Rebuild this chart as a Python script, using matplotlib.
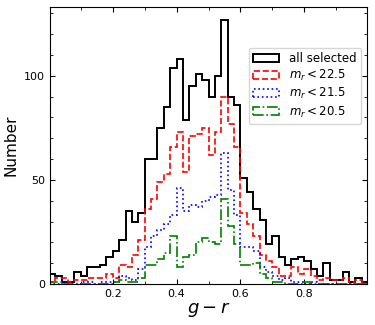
import numpy as np
import matplotlib
matplotlib.use("Agg")
from matplotlib import pyplot as plt
from matplotlib.ticker import MultipleLocator

# g-r histogram, 50 bins of width 0.02 between 0 and 1
edges = np.linspace(0.0, 1.0, 51)

all_sel = [5, 4, 1, 1, 6, 4, 8, 8, 9, 13, 16, 21, 35, 30, 34, 60, 60, 75, 85, 104,
           108, 79, 95, 101, 98, 90, 100, 127, 90, 86, 51, 44, 36, 31, 19, 23, 13, 9, 12, 13,
           11, 7, 4, 10, 2, 2, 6, 1, 3, 1]
m225 = [1, 3, 3, 1, 2, 2, 3, 3, 3, 5, 3, 9, 8, 14, 21, 36, 41, 49, 53, 66,
        73, 54, 71, 72, 75, 62, 73, 90, 77, 66, 34, 29, 23, 14, 11, 8, 4, 4, 8, 5,
        7, 4, 2, 3, 2, 2, 3, 1, 2, 0]
m215 = [0, 0, 1, 0, 0, 1, 1, 0, 1, 1, 1, 4, 3, 2, 7, 18, 23, 26, 29, 33,
        46, 35, 38, 37, 40, 42, 43, 63, 45, 33, 18, 18, 16, 8, 6, 4, 2, 3, 1, 1,
        0, 1, 0, 0, 0, 0, 0, 0, 0, 0]
m205 = [1, 1, 0, 0, 0, 0, 0, 0, 0, 0, 1, 2, 1, 1, 3, 9, 9, 12, 15, 23,
        8, 13, 14, 20, 22, 20, 19, 41, 28, 19, 9, 9, 10, 5, 3, 1, 1, 0, 0, 0,
        1, 0, 0, 0, 0, 0, 0, 0, 0, 0]

labels = ['all selected', r'$m_r < 22.5$', r'$m_r < 21.5$', r'$m_r < 20.5$']

centers = 0.5 * (edges[:-1] + edges[1:])

fig = plt.figure(figsize=(3.75, 3.25), dpi=100)
ax = fig.add_axes([0.133, 0.126, 0.846, 0.852])

ax.hist(centers, bins=edges, weights=all_sel, histtype='step', color='k', lw=1.4, label=labels[0])
ax.hist(centers, bins=edges, weights=m225, histtype='step', color='r', ls='--', lw=1.2, label=labels[1])
ax.hist(centers, bins=edges, weights=m215, histtype='step', color='b', ls=':', lw=1.2, label=labels[2])
ax.hist(centers, bins=edges, weights=m205, histtype='step', color='g', ls='-.', lw=1.2, label=labels[3])

ax.set_xlim(0.003, 0.997)
ax.set_ylim(0, 133)
ax.xaxis.set_major_locator(MultipleLocator(0.2))
ax.xaxis.set_minor_locator(MultipleLocator(0.1))
ax.yaxis.set_major_locator(MultipleLocator(50))
ax.yaxis.set_minor_locator(MultipleLocator(10))
ax.tick_params(which='both', direction='in', top=True, right=True, labelsize=8)
ax.tick_params(which='major', length=3.5)
ax.tick_params(which='minor', length=2.5)

ax.set_xlabel(r'$g - r$', fontsize=13, labelpad=1)
ax.set_ylabel('Number', fontsize=11, labelpad=4)

ax.legend(loc='upper right', bbox_to_anchor=(1.0, 0.875), fontsize=8.5,
          handlelength=2.2, labelspacing=0.25, borderpad=0.4)

plt.savefig('out.png', dpi=100)
plt.close()
